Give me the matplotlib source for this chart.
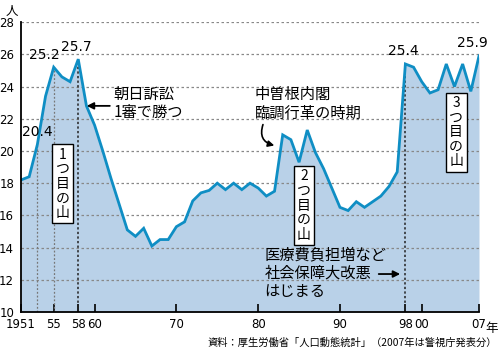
import matplotlib
matplotlib.use("Agg")
import matplotlib.pyplot as plt

plt.rcParams['font.family'] = ['Noto Sans CJK JP', 'DejaVu Sans']

# data (persons)
years = list(range(1951, 2008))
values = [18.2, 18.4, 20.4, 23.4, 25.2, 24.6, 24.3, 25.7, 22.8, 21.6,
          20.0, 18.3, 16.7, 15.1, 14.7, 15.2, 14.1, 14.5, 14.5, 15.3,
          15.6, 16.9, 17.4, 17.55, 18.0, 17.6, 18.0, 17.6, 18.0, 17.7,
          17.2, 17.5, 21.0, 20.7, 19.3, 21.3, 19.9, 18.9, 17.7, 16.5,
          16.3, 16.85, 16.5, 16.85, 17.2, 17.8, 18.7, 25.4, 25.2, 24.3,
          23.6, 23.8, 25.4, 24.0, 25.4, 23.7, 25.9]

xticks = [1951, 1955, 1958, 1960, 1970, 1980, 1990, 1998, 2000, 2007]
xlabels = ['1951', '55', '58', '60', '70', '80', '90', '98', '00', '07']
yticks = [10, 12, 14, 16, 18, 20, 22, 24, 26, 28]

peaks = {1953: '20.4', 1955: '25.2', 1958: '25.7', 1998: '25.4', 2007: '25.9'}
peak_offsets = {1953: (0.0, 0.35), 1955: (-1.1, 0.35), 1958: (-0.2, 0.35),
                1998: (-0.3, 0.35), 2007: (-0.8, 0.35)}

fill_col = '#b9d1e8'
line_col = '#0f8ec4'

fig = plt.figure(figsize=(5, 3.51), dpi=100)
ax = fig.add_axes([0.042, 0.111, 0.916, 0.826])

ax.fill_between(years, 10, values, color=fill_col, lw=0, zorder=1)
for y in yticks[1:]:
    ax.axhline(y, color='#888888', lw=0.9, ls=(0, (2, 2)), zorder=1.5)
ax.plot(years, values, color=line_col, lw=2, zorder=3, solid_joinstyle='miter')

# dotted guide lines down from the peaks
val = dict(zip(years, values))
ax.vlines([1953, 1955], 10, [val[1953], val[1955]], colors='#777777', lw=0.9,
          ls=(0, (1.5, 1.5)), zorder=2)
ax.vlines([1958, 1998], 10, [val[1958], val[1998]], colors='#222222', lw=1.1,
          ls=(0, (1.5, 1.5)), zorder=2)

for yr, txt in peaks.items():
    dx, dy = peak_offsets[yr]
    ax.text(yr + dx, val[yr] + dy, txt, fontsize=10, ha='center', va='bottom',
            family='DejaVu Sans', zorder=5)

ax.set_xlim(1951, 2007)
ax.set_ylim(10, 28)
ax.set_xticks(xticks)
ax.set_xticklabels(xlabels, fontsize=8.5, family='DejaVu Sans')
ax.set_yticks(yticks)
ax.set_yticklabels([str(v) for v in yticks], fontsize=8.5, family='DejaVu Sans')
ax.tick_params(axis='x', direction='in', length=6, width=1.2, pad=4)
ax.tick_params(axis='y', length=0, pad=5)
for s in ['top', 'right']:
    ax.spines[s].set_visible(False)
for s in ['left', 'bottom']:
    ax.spines[s].set_linewidth(1.3)
    ax.spines[s].set_zorder(4)

fig.text(0.024, 0.985, '人', fontsize=9, ha='center', va='top')
fig.text(0.996, 0.082, '年', fontsize=9, ha='right', va='top')

# boxed vertical labels
box = dict(boxstyle='square,pad=0.25', fc='white', ec='black', lw=1)
for x, y, s in [(1956.1, 20.2, '1つ目の山'), (1985.6, 18.85, '2つ目の山'), (2004.2, 23.4, '3つ目の山')]:
    ax.text(x, y, '\n'.join(s), fontsize=10, ha='center', va='top', linespacing=1.05,
            bbox=box, zorder=6)

# annotations
ax.annotate('', xy=(1958.7, 22.8), xytext=(1962.2, 22.8),
            arrowprops=dict(arrowstyle='-|>', color='black', lw=1.3, mutation_scale=10),
            zorder=6)
ax.text(1962.3, 22.95, '朝日訴訟\n1審で勝つ', fontsize=11, ha='left', va='center',
        linespacing=1.15, zorder=6)

ax.text(1979.6, 22.9, '中曽根内閣\n臨調行革の時期', fontsize=11, ha='left', va='center',
        linespacing=1.15, zorder=6)
ax.annotate('', xy=(1982.3, 20.3), xytext=(1980.7, 21.8),
            arrowprops=dict(arrowstyle='-|>', color='black', lw=1.2, mutation_scale=9,
                            connectionstyle='arc3,rad=0.6'),
            zorder=6)

ax.text(1980.8, 12.4, '医療費負担増など\n社会保障大改悪\nはじまる', fontsize=11, ha='left',
        va='center', linespacing=1.1, zorder=6)
ax.annotate('', xy=(1997.7, 12.36), xytext=(1994.4, 12.36),
            arrowprops=dict(arrowstyle='-|>', color='black', lw=1.3, mutation_scale=10),
            zorder=6)

fig.text(0.994, 0.01, '資料：厚生労働省「人口動態統計」（2007年は警視庁発表分）', fontsize=7.4,
         ha='right', va='bottom')

fig.savefig('out.png', dpi=100)
